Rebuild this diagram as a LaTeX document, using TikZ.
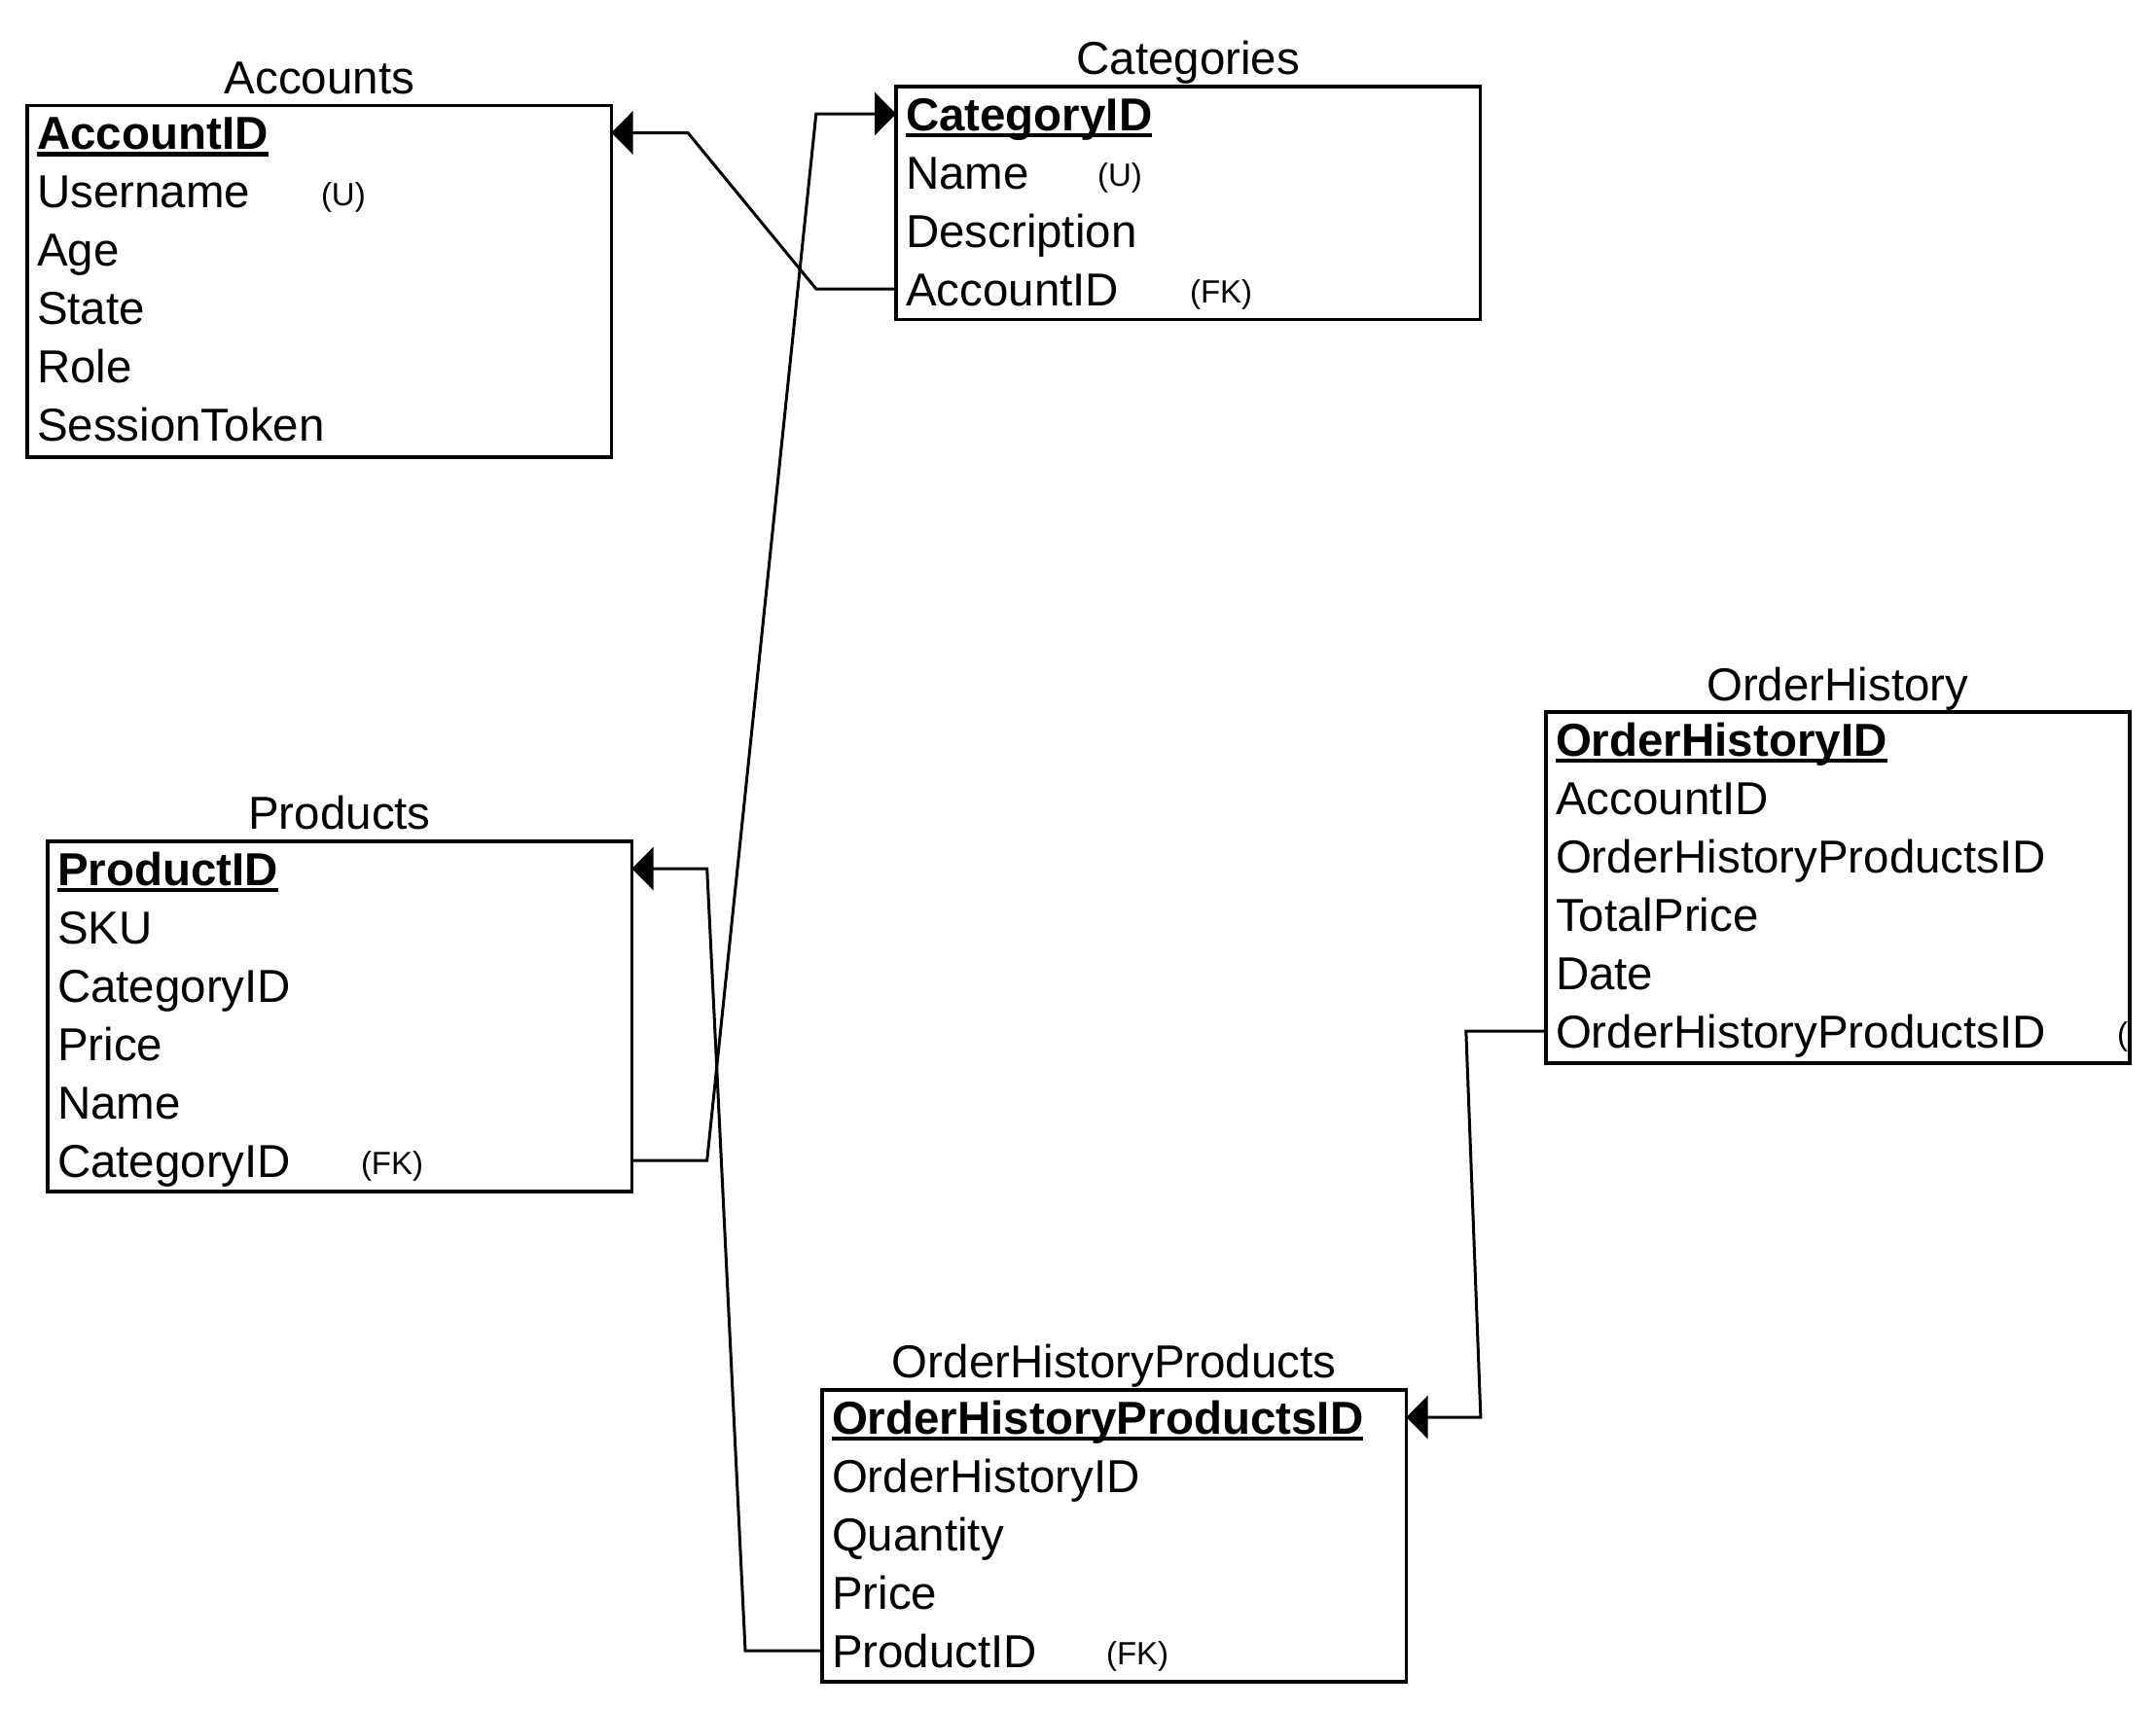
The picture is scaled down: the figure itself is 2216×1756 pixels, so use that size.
\documentclass[tikz,border=0pt]{standalone}
\usepackage{fontspec}
\setmainfont{Liberation Sans}
\usetikzlibrary{arrows.meta}
\newcommand\pkul[1]{\setbox0\hbox{#1}\rlap{\rule[-7.2pt]{\wd0}{4.3pt}}\box0}
\newcommand\annot[1]{\raisebox{2.5pt}{\fontsize{33}{40}\selectfont #1}}
\newcommand\rowtxt[1]{\makebox[580.5pt][l]{#1}}
\tikzset{
  tbl/.style={draw, rectangle, line width=3.3pt, inner sep=0pt, outer sep=0pt, anchor=north west},
  row/.style={anchor=west, inner xsep=10pt, inner ysep=0pt, outer sep=0pt,
    text height=44pt, text depth=10pt, font=\fontsize{47.5}{57}\selectfont},
  ttl/.style={anchor=base, inner sep=0pt, font=\fontsize{47.5}{57}\selectfont},
  link/.style={line width=3pt, line join=miter},
  tipend/.style={-{Triangle[length=22pt,width=44pt]}},
}
\begin{document}
\begin{tikzpicture}[x=1pt,y=-1pt]
\useasboundingbox (0,0) rectangle (2216,1756);
\fill[white] (0,0) rectangle (2216,1756);

% Accounts
\node[tbl, minimum width=600.5pt, minimum height=361.5pt] (acc) at (28,108.5) {};
\node[ttl] (acc-t) at (328.5,96) {Accounts};
\node[row] (acc-1) at (28,136.5) {\rowtxt{\bfseries\pkul{AccountID}}};
\node[row] (acc-2) at (28,196.5) {\rowtxt{\makebox[292pt][l]{Username}\annot{(U)}}};
\node[row] (acc-3) at (28,256.5) {\rowtxt{Age}};
\node[row] (acc-4) at (28,316.5) {\rowtxt{State}};
\node[row] (acc-5) at (28,376.5) {\rowtxt{Role}};
\node[row] (acc-6) at (28,436.5) {\rowtxt{SessionToken}};

% Categories
\node[tbl, minimum width=600.5pt, minimum height=239.7pt] (cat) at (921,89) {};
\node[ttl] (cat-t) at (1221.3,76) {Categories};
\node[row] (cat-1) at (921,117) {\rowtxt{\bfseries\pkul{CategoryID}}};
\node[row] (cat-2) at (921,177) {\rowtxt{\makebox[197pt][l]{Name}\annot{(U)}}};
\node[row] (cat-3) at (921,237) {\rowtxt{Description}};
\node[row] (cat-4) at (921,297) {\rowtxt{\makebox[292pt][l]{AccountID}\annot{(FK)}}};

% Products
\node[tbl, minimum width=600.5pt, minimum height=360pt] (prod) at (49,865) {};
\node[ttl] (prod-t) at (349,852.5) {Products};
\node[row] (prod-1) at (49,893) {\rowtxt{\bfseries\pkul{ProductID}}};
\node[row] (prod-2) at (49,953) {\rowtxt{SKU}};
\node[row] (prod-3) at (49,1013) {\rowtxt{CategoryID}};
\node[row] (prod-4) at (49,1073) {\rowtxt{Price}};
\node[row] (prod-5) at (49,1133) {\rowtxt{Name}};
\node[row] (prod-6) at (49,1193) {\rowtxt{\makebox[312pt][l]{CategoryID}\annot{(FK)}}};

% OrderHistory
\node[tbl, minimum width=600pt, minimum height=361pt] (oh) at (1589,732) {};
\node[ttl] (oh-t) at (1888.8,720) {OrderHistory};
\begin{scope}
\clip (1589,732) rectangle (2189,1093);
\node[row] (oh-1) at (1589,760) {\rowtxt{\bfseries\pkul{OrderHistoryID}}};
\node[row] (oh-2) at (1589,820) {\rowtxt{AccountID}};
\node[row] (oh-3) at (1589,880) {\rowtxt{OrderHistoryProductsID}};
\node[row] (oh-4) at (1589,940) {\rowtxt{TotalPrice}};
\node[row] (oh-5) at (1589,1000) {\rowtxt{Date}};
\node[row] (oh-6) at (1589,1060) {\rowtxt{\makebox[577pt][l]{OrderHistoryProductsID}\annot{(FK)}}};
\end{scope}

% OrderHistoryProducts
\node[tbl, minimum width=600.5pt, minimum height=300pt] (ohp) at (845,1429) {};
\node[ttl] (ohp-t) at (1145.2,1416) {OrderHistoryProducts};
\node[row] (ohp-1) at (845,1457) {\rowtxt{\bfseries\pkul{OrderHistoryProductsID}}};
\node[row] (ohp-2) at (845,1517) {\rowtxt{OrderHistoryID}};
\node[row] (ohp-3) at (845,1577) {\rowtxt{Quantity}};
\node[row] (ohp-4) at (845,1637) {\rowtxt{Price}};
\node[row] (ohp-5) at (845,1697) {\rowtxt{\makebox[282pt][l]{ProductID}\annot{(FK)}}};

% bend coordinates
\coordinate (k1) at (838.8,0);
\coordinate (k2) at (707,0);
\coordinate (k3) at (726.7,0);
\coordinate (k4) at (766,0);
\coordinate (k5) at (1506.8,0);
\coordinate (k6) at (1521.9,0);

% connectors
\draw[link,tipend] (cat-4.west) -- (cat-4.west -| k1) -- (acc-1.east -| k2) -- (acc-1.east);
\draw[link,tipend] (prod-6.east) -- (prod-6.east -| k3) -- (cat-1.west -| k1) -- (cat-1.west);
\draw[link,tipend] (ohp-5.west) -- (ohp-5.west -| k4) -- (prod-1.east -| k3) -- (prod-1.east);
\draw[link,tipend] (oh-6.west) -- (oh-6.west -| k5) -- (ohp-1.east -| k6) -- (ohp-1.east);
\end{tikzpicture}
\end{document}
